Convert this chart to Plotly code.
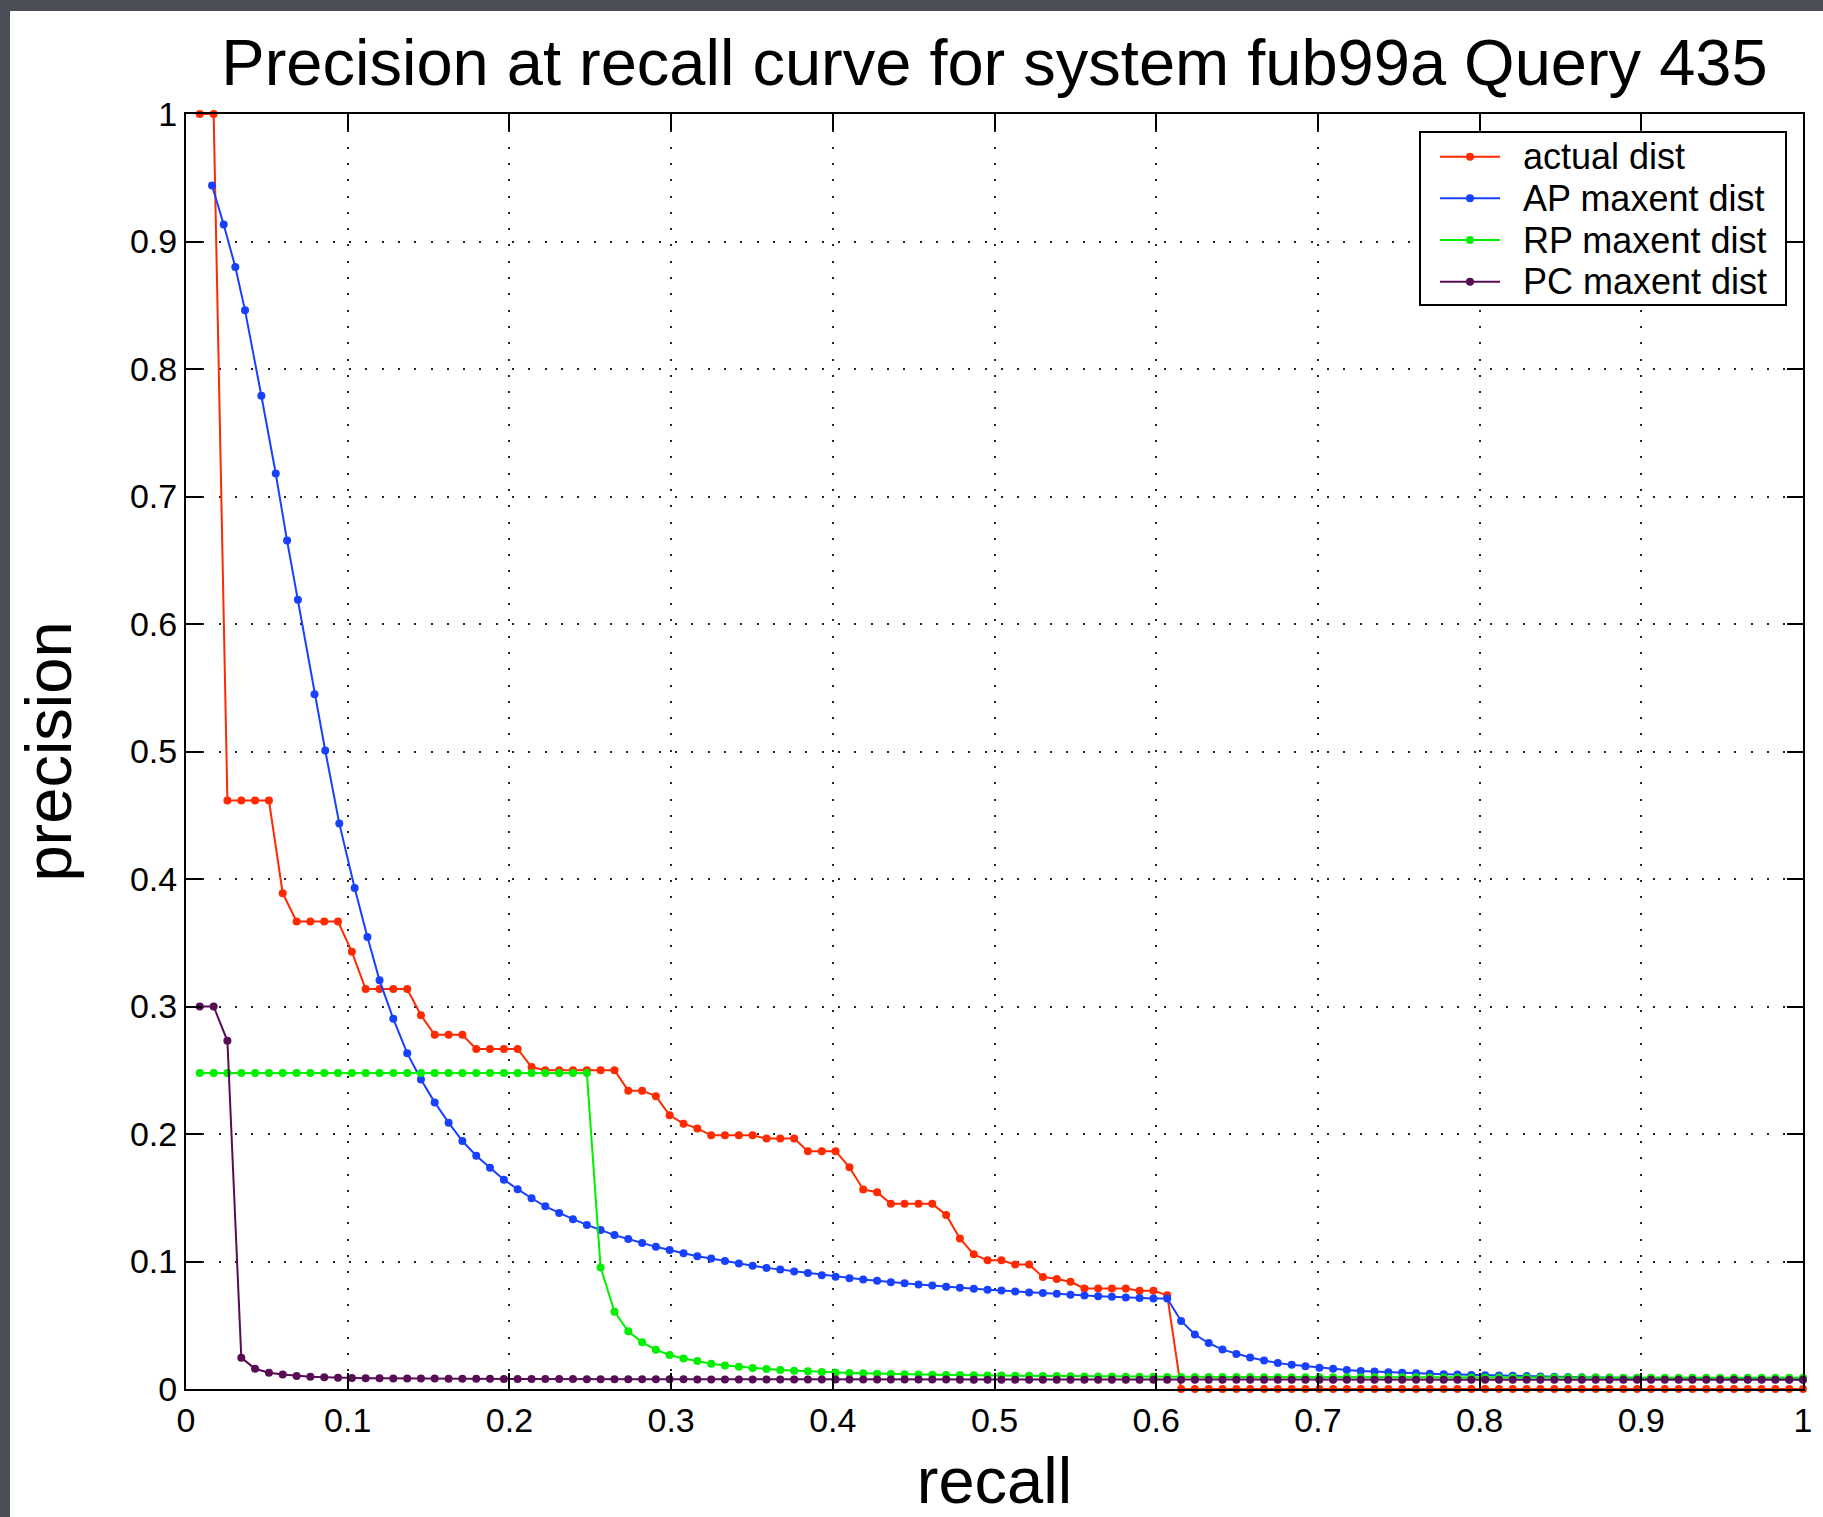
import plotly.graph_objects as go

FONT = "Liberation Sans, Arial, Helvetica, sans-serif"

# recall levels (k / 117 relevant documents)
recall = [
    0.0085, 0.0171, 0.0256, 0.0342, 0.0427, 0.0513, 0.0598, 0.0684, 0.0769, 0.0855,
    0.0940, 0.1026, 0.1111, 0.1197, 0.1282, 0.1368, 0.1453, 0.1538, 0.1624, 0.1709,
    0.1795, 0.1880, 0.1966, 0.2051, 0.2137, 0.2222, 0.2308, 0.2393, 0.2479, 0.2564,
    0.2650, 0.2735, 0.2821, 0.2906, 0.2991, 0.3077, 0.3162, 0.3248, 0.3333, 0.3419,
    0.3504, 0.3590, 0.3675, 0.3761, 0.3846, 0.3932, 0.4017, 0.4103, 0.4188, 0.4274,
    0.4359, 0.4444, 0.4530, 0.4615, 0.4701, 0.4786, 0.4872, 0.4957, 0.5043, 0.5128,
    0.5214, 0.5299, 0.5385, 0.5470, 0.5556, 0.5641, 0.5726, 0.5812, 0.5897, 0.5983,
    0.6068, 0.6154, 0.6239, 0.6325, 0.6410, 0.6496, 0.6581, 0.6667, 0.6752, 0.6838,
    0.6923, 0.7009, 0.7094, 0.7179, 0.7265, 0.7350, 0.7436, 0.7521, 0.7607, 0.7692,
    0.7778, 0.7863, 0.7949, 0.8034, 0.8120, 0.8205, 0.8291, 0.8376, 0.8462, 0.8547,
    0.8632, 0.8718, 0.8803, 0.8889, 0.8974, 0.9060, 0.9145, 0.9231, 0.9316, 0.9402,
    0.9487, 0.9573, 0.9658, 0.9744, 0.9829, 0.9915, 1.0000,
]

# AP maxent curve sits slightly right of the grid for its first 13 points
ap_recall_head = [0.0161, 0.0233, 0.0305, 0.0365, 0.0466, 0.0555, 0.0625,
                  0.0692, 0.0795, 0.0861, 0.0948, 0.1043, 0.1122]

actual_dist = [
    1.0000, 1.0000, 0.4615, 0.4615, 0.4615, 0.4615, 0.3889, 0.3667, 0.3667, 0.3667,
    0.3667, 0.3429, 0.3137, 0.3137, 0.3137, 0.3137, 0.2931, 0.2778, 0.2778, 0.2778,
    0.2667, 0.2667, 0.2667, 0.2667, 0.2525, 0.2500, 0.2500, 0.2500, 0.2500, 0.2500,
    0.2500, 0.2340, 0.2340, 0.2297, 0.2147, 0.2081, 0.2044, 0.1990, 0.1990, 0.1990,
    0.1990, 0.1964, 0.1964, 0.1964, 0.1865, 0.1865, 0.1865, 0.1739, 0.1565, 0.1543,
    0.1452, 0.1452, 0.1452, 0.1452, 0.1365, 0.1181, 0.1056, 0.1009, 0.1009, 0.0976,
    0.0976, 0.0879, 0.0862, 0.0841, 0.0789, 0.0789, 0.0789, 0.0789, 0.0770, 0.0770,
    0.0736, 0.0, 0.0, 0.0, 0.0, 0.0, 0.0, 0.0, 0.0, 0.0,
    0.0, 0.0, 0.0, 0.0, 0.0, 0.0, 0.0, 0.0, 0.0, 0.0,
    0.0, 0.0, 0.0, 0.0, 0.0, 0.0, 0.0, 0.0, 0.0, 0.0,
    0.0, 0.0, 0.0, 0.0, 0.0, 0.0, 0.0, 0.0, 0.0, 0.0,
    0.0, 0.0, 0.0, 0.0, 0.0, 0.0, 0.0,
]

ap_maxent = [
    0.9439, 0.9133, 0.8800, 0.8460, 0.7790, 0.7180, 0.6654, 0.6191, 0.5450, 0.5008,
    0.4436, 0.3929, 0.3545, 0.3205, 0.2903, 0.2634, 0.2428, 0.2248, 0.2089, 0.1945,
    0.1830, 0.1736, 0.1642, 0.1567, 0.1496, 0.1433, 0.1381, 0.1332, 0.1287, 0.1247,
    0.1207, 0.1176, 0.1145, 0.1115, 0.1091, 0.1065, 0.1042, 0.1023, 0.1003, 0.0984,
    0.0966, 0.0950, 0.0937, 0.0922, 0.0909, 0.0893, 0.0880, 0.0869, 0.0859, 0.0849,
    0.0838, 0.0830, 0.0820, 0.0812, 0.0802, 0.0794, 0.0786, 0.0778, 0.0773, 0.0765,
    0.0757, 0.0752, 0.0747, 0.0739, 0.0734, 0.0728, 0.0723, 0.0718, 0.0713, 0.0710,
    0.0710, 0.0534, 0.0427, 0.0360, 0.0309, 0.0275, 0.0247, 0.0224, 0.0203, 0.0190,
    0.0179, 0.0166, 0.0158, 0.0149, 0.0142, 0.0137, 0.0132, 0.0127, 0.0123, 0.0119,
    0.0116, 0.0113, 0.0110, 0.0108, 0.0105, 0.0103, 0.0101, 0.0098, 0.0096, 0.0094,
    0.0092, 0.0090, 0.0089, 0.0087, 0.0086, 0.0084, 0.0083, 0.0082, 0.0081, 0.0080,
    0.0079, 0.0078, 0.0077, 0.0077, 0.0076, 0.0075, 0.0075,
]

rp_maxent = [
    0.2478, 0.2478, 0.2478, 0.2478, 0.2478, 0.2478, 0.2478, 0.2478, 0.2478, 0.2478,
    0.2478, 0.2478, 0.2478, 0.2478, 0.2478, 0.2478, 0.2478, 0.2478, 0.2478, 0.2478,
    0.2478, 0.2478, 0.2478, 0.2478, 0.2478, 0.2478, 0.2478, 0.2478, 0.2478, 0.0953,
    0.0605, 0.0452, 0.0366, 0.0308, 0.0266, 0.0240, 0.0219, 0.0198, 0.0185, 0.0175,
    0.0164, 0.0157, 0.0150, 0.0144, 0.0139, 0.0134, 0.0130, 0.0126, 0.0123, 0.0120,
    0.0118, 0.0116, 0.0114, 0.0112, 0.0110, 0.0109, 0.0107, 0.0106, 0.0105, 0.0104,
    0.0103, 0.0102, 0.0101, 0.0100, 0.0099, 0.0098, 0.0098, 0.0097, 0.0096, 0.0096,
    0.0095, 0.0095, 0.0094, 0.0094, 0.0094, 0.0094, 0.0094, 0.0093, 0.0093, 0.0093,
    0.0093, 0.0093, 0.0092, 0.0092, 0.0092, 0.0092, 0.0092, 0.0092, 0.0092, 0.0091,
    0.0091, 0.0091, 0.0091, 0.0091, 0.0091, 0.0091, 0.0090, 0.0090, 0.0090, 0.0090,
    0.0090, 0.0090, 0.0090, 0.0089, 0.0089, 0.0089, 0.0089, 0.0089, 0.0089, 0.0089,
    0.0088, 0.0088, 0.0088, 0.0088, 0.0088, 0.0088, 0.0088,
]

pc_maxent = [
    0.3000, 0.3000, 0.2731, 0.0246, 0.0159, 0.0128, 0.0113, 0.0102, 0.0096, 0.0093,
    0.0089, 0.0086, 0.0084, 0.0084, 0.0083, 0.0083, 0.0082, 0.0082, 0.0081, 0.0081,
    0.0080, 0.0080, 0.0079, 0.0079, 0.0079, 0.0078, 0.0078, 0.0078, 0.0077, 0.0077,
    0.0077, 0.0077, 0.0076, 0.0076, 0.0076, 0.0076, 0.0075, 0.0075, 0.0075, 0.0075,
    0.0075, 0.0075, 0.0075, 0.0075, 0.0075, 0.0074, 0.0074, 0.0074, 0.0074, 0.0074,
    0.0074, 0.0074, 0.0074, 0.0074, 0.0074, 0.0073, 0.0073, 0.0073, 0.0073, 0.0073,
    0.0073, 0.0073, 0.0073, 0.0073, 0.0073, 0.0073, 0.0073, 0.0073, 0.0073, 0.0073,
    0.0072, 0.0072, 0.0072, 0.0072, 0.0072, 0.0072, 0.0072, 0.0072, 0.0072, 0.0072,
    0.0072, 0.0072, 0.0072, 0.0072, 0.0072, 0.0072, 0.0072, 0.0072, 0.0072, 0.0072,
    0.0072, 0.0072, 0.0072, 0.0072, 0.0072, 0.0072, 0.0072, 0.0072, 0.0072, 0.0072,
    0.0072, 0.0072, 0.0072, 0.0072, 0.0072, 0.0072, 0.0072, 0.0072, 0.0072, 0.0072,
    0.0072, 0.0072, 0.0072, 0.0072, 0.0072, 0.0072, 0.0072,
]

ap_recall = ap_recall_head + recall[len(ap_recall_head):]

series_names = ["actual dist", "AP maxent dist", "RP maxent dist", "PC maxent dist"]
series_colors = ["#ff2a00", "#1840ff", "#00f000", "#580c55"]
series_x = [recall, ap_recall, recall, recall]
series_y = [actual_dist, ap_maxent, rp_maxent, pc_maxent]

# ---- layout geometry (pixels) ----
W, H = 1823, 1517
PL, PR, PT, PB = 186, 1803, 114, 1389      # plot box edges
PW, PH = PR - PL, PB - PT


def px_x(p):
    return (p - PL) / PW


def px_y(p):
    return (PB - p) / PH


fig = go.Figure()
for name, color, xs, ys in zip(series_names, series_colors, series_x, series_y):
    fig.add_trace(go.Scatter(
        x=xs, y=ys, name=name, mode="lines+markers",
        line=dict(color=color, width=2),
        marker=dict(color=color, size=8, line=dict(width=0)),
        cliponaxis=False, showlegend=False,
    ))

axis_common = dict(
    range=[0, 1], dtick=0.1, tick0=0, automargin=False,
    showline=True, linecolor="black", linewidth=2, mirror="ticks",
    ticks="inside", ticklen=16, tickwidth=2, tickcolor="black",
    showgrid=True, gridcolor="#222222", gridwidth=1.6, griddash="2px,14.3px",
    zeroline=False,
    tickfont=dict(family=FONT, size=34, color="black"),
)

# ---- legend box drawn as a boxed key in the upper right ----
LEG_L, LEG_R, LEG_T, LEG_B = 1420, 1786, 132, 305
ROW_Y = [156.7, 198.3, 240.0, 281.7]
LINE_X0, LINE_X1, MARK_X, TEXT_X = 1440, 1500, 1470, 1521

shapes = [dict(
    type="rect", xref="paper", yref="paper", layer="below",
    x0=px_x(10), x1=px_x(W + 40), y0=px_y(H + 40), y1=px_y(11),
    fillcolor="white", line=dict(width=0),
)]
shapes.append(dict(
    type="rect", xref="paper", yref="paper", layer="above",
    x0=px_x(LEG_L), x1=px_x(LEG_R), y0=px_y(LEG_B), y1=px_y(LEG_T),
    fillcolor="white", line=dict(color="black", width=2),
))
annotations = []
for name, color, ry in zip(series_names, series_colors, ROW_Y):
    shapes.append(dict(
        type="line", xref="paper", yref="paper", layer="above",
        x0=px_x(LINE_X0), x1=px_x(LINE_X1), y0=px_y(ry), y1=px_y(ry),
        line=dict(color=color, width=2),
    ))
    shapes.append(dict(
        type="circle", xref="paper", yref="paper", layer="above",
        xsizemode="pixel", ysizemode="pixel",
        xanchor=px_x(MARK_X), yanchor=px_y(ry),
        x0=-4, x1=4, y0=-4, y1=4,
        fillcolor=color, line=dict(width=0),
    ))
    annotations.append(dict(
        text=name, xref="paper", yref="paper",
        x=px_x(TEXT_X), y=px_y(ry), xanchor="left", yanchor="middle",
        showarrow=False, font=dict(family=FONT, size=36, color="black"),
    ))

fig.update_layout(
    width=W, height=H,
    margin=dict(l=PL, r=W - PR, t=PT, b=H - PB, pad=0),
    paper_bgcolor="#4b4e57",
    plot_bgcolor="white",
    font=dict(family=FONT, color="black"),
    title=dict(
        text="Precision at recall curve for system fub99a Query 435",
        font=dict(family=FONT, size=65, color="black"),
        x=0.5, xref="paper", xanchor="center",
        y=1 - 62 / H, yref="container", yanchor="middle",
    ),
    xaxis=dict(axis_common, title=dict(text="recall", font=dict(family=FONT, size=65, color="black"), standoff=35)),
    yaxis=dict(axis_common, title=dict(text="precision", font=dict(family=FONT, size=65, color="black"), standoff=37)),
    showlegend=False,
    shapes=shapes,
    annotations=annotations,
)

fig.write_html("out.html")
